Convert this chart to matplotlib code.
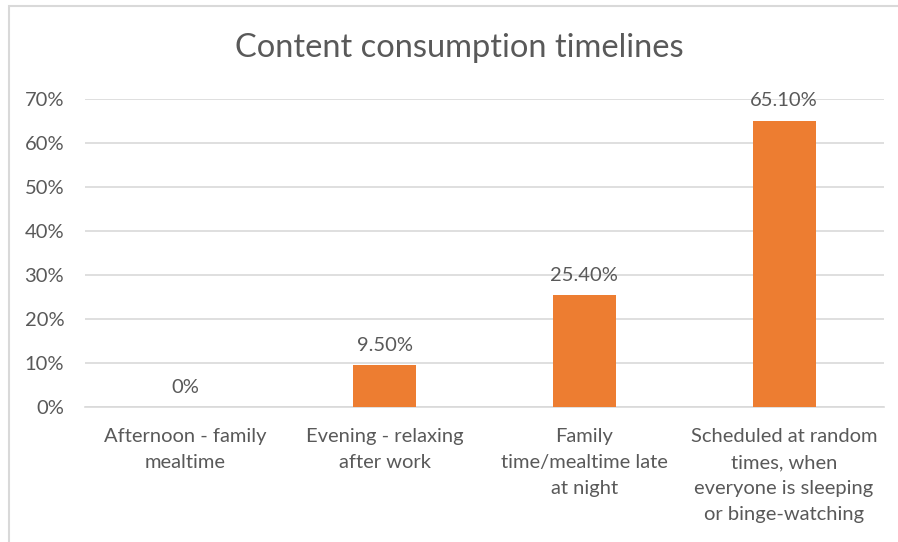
import matplotlib.pyplot as plt
from matplotlib.patches import Rectangle
from matplotlib.ticker import PercentFormatter

categories = [
    "Afternoon - family\nmealtime",
    "Evening - relaxing\nafter work",
    "Family\ntime/mealtime late\nat night",
    "Scheduled at random\ntimes, when\neveryone is sleeping\nor binge-watching",
]
values = [0.0, 9.5, 25.4, 65.1]
value_labels = ["0%", "9.50%", "25.40%", "65.10%"]
y_ticks = [0, 10, 20, 30, 40, 50, 60, 70]

text_color = "#595959"
grid_color = "#d9d9d9"
bar_color = "#ED7D31"

plt.rcParams['font.family'] = ['Lato', 'DejaVu Sans']

fig = plt.figure(figsize=(8.98, 5.42), dpi=100)
ax = fig.add_axes([0.0947, 0.249, 0.8897, 0.5683])

# chart frame (only left and top edges visible in the crop)
fig.patches.append(Rectangle((9 / 898, -0.1), 1.2, 1 - 6 / 542 + 0.1,
                             transform=fig.transFigure, fill=False,
                             edgecolor=grid_color, linewidth=1.5))

x = range(len(categories))
bars = ax.bar(x, values, width=0.315, color=bar_color, zorder=3)

for b, lbl in zip(bars, value_labels):
    ax.annotate(lbl, (b.get_x() + b.get_width() / 2, b.get_height()),
                xytext=(0, 8), textcoords="offset points",
                ha="center", va="bottom", fontsize=14.5, color=text_color)

ax.set_xlim(-0.5, len(categories) - 0.5)
ax.set_ylim(0, 70)
ax.set_yticks(y_ticks)
ax.yaxis.set_major_formatter(PercentFormatter(decimals=0))
ax.set_xticks(list(x))
ax.set_xticklabels(categories)
for t in ax.get_xticklabels():
    t.set_linespacing(1.65)

ax.tick_params(axis="both", length=0, labelsize=14.5, colors=text_color)
ax.tick_params(axis="y", pad=15)
ax.tick_params(axis="x", pad=15)
ax.grid(axis="y", color=grid_color, linewidth=1.2, zorder=0)
for side in ["top", "right", "left"]:
    ax.spines[side].set_visible(False)
ax.spines["bottom"].set_color(grid_color)
ax.spines["bottom"].set_linewidth(1.2)

fig.text(0.512, 1 - 48 / 542, "Content consumption timelines",
         ha="center", va="center", fontsize=23.5, color=text_color)

fig.savefig("out.png", dpi=100, facecolor="white")
